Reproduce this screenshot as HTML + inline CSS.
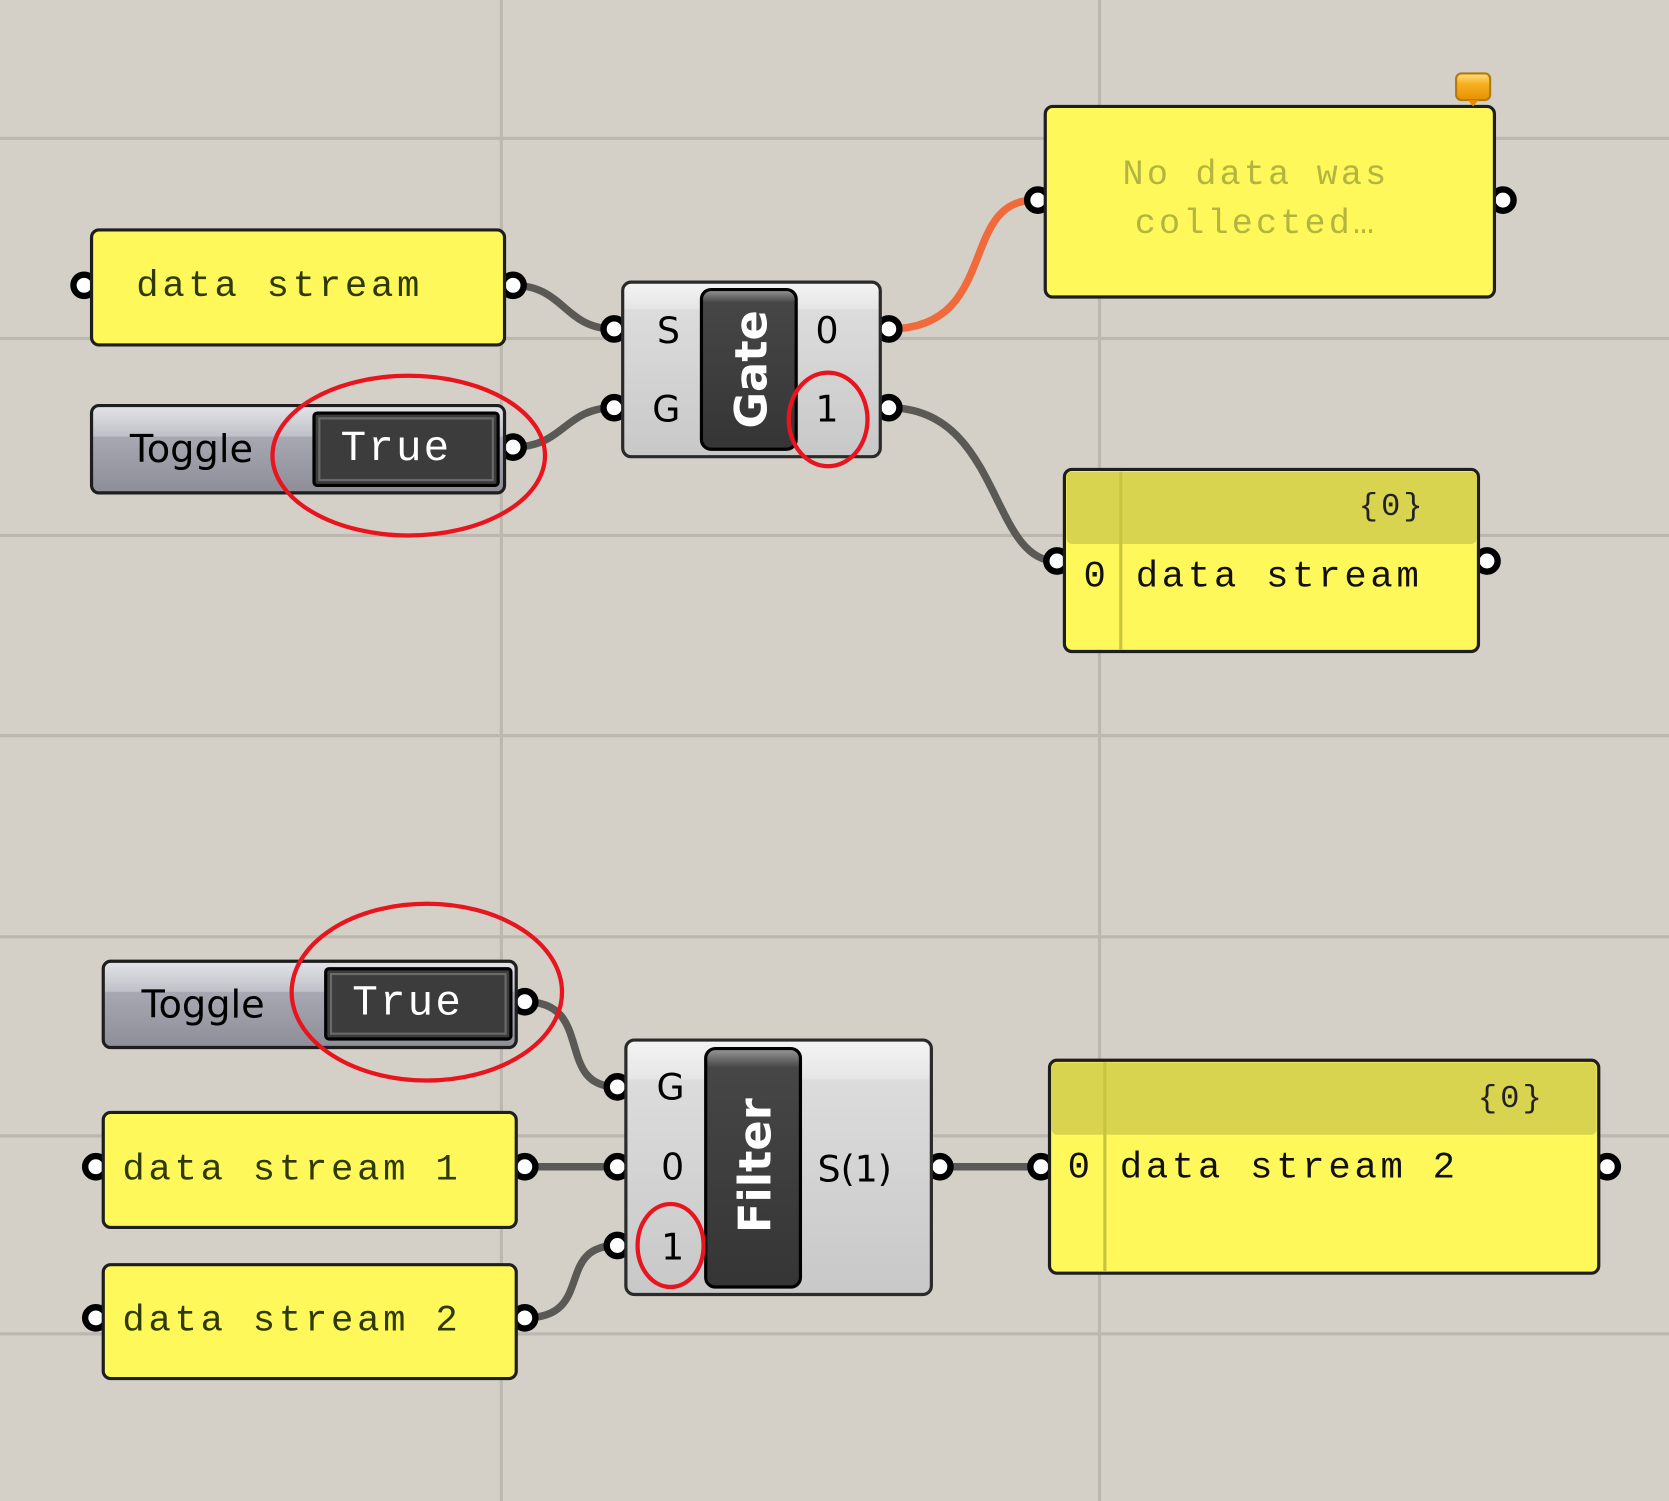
<!DOCTYPE html>
<html><head><meta charset="utf-8"><style>
html,body{margin:0;padding:0;background:#d4d0c8;}
svg{display:block}
.mono{font-family:"Liberation Mono","Courier New",monospace;}
.sans{font-family:"DejaVu Sans","Liberation Sans",sans-serif;}
</style></head><body>
<svg width="1669" height="1501" viewBox="0 0 1568 1410" preserveAspectRatio="none" xmlns="http://www.w3.org/2000/svg">
<defs>
<linearGradient id="comp" x1="0" y1="0" x2="0" y2="1">
<stop offset="0" stop-color="#f4f4f4"/><stop offset="0.15" stop-color="#e6e6e6"/><stop offset="0.16" stop-color="#dcdcdc"/><stop offset="1" stop-color="#c8c8c8"/></linearGradient>
<linearGradient id="dark" x1="0" y1="0" x2="0" y2="1">
<stop offset="0" stop-color="#9a9a9a"/><stop offset="0.08" stop-color="#464646"/><stop offset="1" stop-color="#353535"/></linearGradient>
<linearGradient id="tog" x1="0" y1="0" x2="0" y2="1">
<stop offset="0" stop-color="#e4e4ea"/><stop offset="0.35" stop-color="#c0c0c8"/><stop offset="0.36" stop-color="#a8a8b2"/><stop offset="1" stop-color="#8e8e98"/></linearGradient>
<linearGradient id="bal" x1="0" y1="0" x2="0" y2="1">
<stop offset="0" stop-color="#ffe080"/><stop offset="0.4" stop-color="#f7b020"/><stop offset="1" stop-color="#e69000"/></linearGradient>
</defs>
<g stroke="#bcb8b0" stroke-width="3">
<line x1="0" y1="130" x2="1568" y2="130"/><line x1="0" y1="318" x2="1568" y2="318"/>
<line x1="0" y1="503" x2="1568" y2="503"/><line x1="0" y1="691" x2="1568" y2="691"/>
<line x1="0" y1="880" x2="1568" y2="880"/><line x1="0" y1="1067" x2="1568" y2="1067"/>
<line x1="0" y1="1253" x2="1568" y2="1253"/>
<line x1="471" y1="0" x2="471" y2="1410"/><line x1="1033" y1="0" x2="1033" y2="1410"/>
</g>
<g fill="none" stroke="#5a5955" stroke-width="7">
<path d="M482,268 C530,268 530,309 577,309"/>
<path d="M482,420 C530,420 530,383 577,383"/>
<path d="M835,383 C940,383 930,527 992,527"/>
<path d="M493,941 C560,941 520,1021 580,1021"/>
<path d="M493,1096 L580,1096"/>
<path d="M493,1238 C560,1238 520,1170 580,1170"/>
<path d="M883,1096 L977,1096"/>
</g>
<path d="M835,309 C940,309 900,188 972,188" fill="none" stroke="#f06a3c" stroke-width="7"/>
<g fill="#fff" stroke="#000" stroke-width="6">
<circle cx="79" cy="268" r="10"/><circle cx="482" cy="268" r="10"/><circle cx="482" cy="420" r="10"/>
<circle cx="577" cy="309" r="10"/><circle cx="577" cy="383" r="10"/><circle cx="835" cy="309" r="10"/><circle cx="835" cy="383" r="10"/>
<circle cx="975" cy="188" r="10"/><circle cx="1412" cy="188" r="10"/>
<circle cx="993" cy="527" r="10"/><circle cx="1397" cy="527" r="10"/>
<circle cx="493" cy="941" r="10"/><circle cx="90" cy="1096" r="10"/><circle cx="493" cy="1096" r="10"/>
<circle cx="90" cy="1238" r="10"/><circle cx="493" cy="1238" r="10"/>
<circle cx="580" cy="1021" r="10"/><circle cx="580" cy="1096" r="10"/><circle cx="580" cy="1170" r="10"/>
<circle cx="883" cy="1096" r="10"/><circle cx="978" cy="1096" r="10"/><circle cx="1510" cy="1096" r="10"/>
</g>
<rect x="86" y="216" width="388" height="108" rx="7" fill="#fff85a" stroke="#1e1e1e" stroke-width="3"/>
<text x="128" y="278" class="mono" font-size="35" letter-spacing="3.5" fill="#2e3a00">data stream</text>
<rect x="86" y="381" width="388" height="82" rx="7" fill="url(#tog)" stroke="#1e1e1e" stroke-width="3"/>
<text x="122" y="434" class="sans" font-size="36" fill="#000">Toggle</text>
<rect x="295" y="388" width="173" height="68" rx="3" fill="#3c3c3c" stroke="#000" stroke-width="3"/>
<rect x="300" y="393" width="163" height="58" fill="none" stroke="#6a6a6a" stroke-width="2"/>
<text x="320" y="432" class="mono" font-size="40" letter-spacing="2" fill="#fff">True</text>
<ellipse cx="384" cy="428" rx="128" ry="75" fill="none" stroke="#e8141e" stroke-width="4"/>
<rect x="585" y="265" width="242" height="164" rx="8" fill="url(#comp)" stroke="#2a2a2a" stroke-width="3"/>
<rect x="659" y="272" width="89" height="150" rx="9" fill="url(#dark)" stroke="#000" stroke-width="3"/>
<text transform="translate(720,347) rotate(-90)" text-anchor="middle" class="sans" font-size="42" font-weight="bold" fill="#fff">Gate</text>
<g class="sans" font-size="34" fill="#000" text-anchor="middle">
<text x="628" y="322">S</text><text x="626" y="396">G</text><text x="777" y="322">0</text><text x="777" y="396">1</text>
</g>
<ellipse cx="778" cy="394" rx="37" ry="44" fill="none" stroke="#e8141e" stroke-width="4"/>
<rect x="982" y="100" width="422" height="179" rx="7" fill="#fff85a" stroke="#1e1e1e" stroke-width="3"/>
<g class="mono" font-size="33" letter-spacing="3" fill="#b4b440" text-anchor="middle">
<text x="1180" y="173">No data was</text><text x="1180" y="219">collected…</text></g>
<rect x="1368" y="69" width="32" height="25" rx="5" fill="url(#bal)" stroke="#b07a10" stroke-width="2"/>
<path d="M1379,94 L1384,100 L1389,94 Z" fill="#e69000"/>
<rect x="1000" y="441" width="389" height="171" rx="7" fill="#fff85a" stroke="#1e1e1e" stroke-width="3"/>
<rect x="1002" y="443" width="385" height="68" rx="5" fill="#d9d450"/>
<line x1="1053" y1="443" x2="1053" y2="610" stroke="#c8c440" stroke-width="3"/>
<text x="1308" y="484" class="mono" font-size="30" letter-spacing="3" text-anchor="middle" fill="#222">{0}</text>
<text x="1018" y="551" class="mono" font-size="35" letter-spacing="3.5" fill="#111">0 data stream</text>
<rect x="97" y="903" width="388" height="81" rx="7" fill="url(#tog)" stroke="#1e1e1e" stroke-width="3"/>
<text x="133" y="956" class="sans" font-size="36" fill="#000">Toggle</text>
<rect x="306" y="910" width="174" height="66" rx="3" fill="#3c3c3c" stroke="#000" stroke-width="3"/>
<rect x="311" y="915" width="164" height="56" fill="none" stroke="#6a6a6a" stroke-width="2"/>
<text x="331" y="953" class="mono" font-size="40" letter-spacing="2" fill="#fff">True</text>
<ellipse cx="401" cy="932" rx="127" ry="83" fill="none" stroke="#e8141e" stroke-width="4"/>
<rect x="97" y="1045" width="388" height="108" rx="7" fill="#fff85a" stroke="#1e1e1e" stroke-width="3"/>
<text x="115" y="1108" class="mono" font-size="35" letter-spacing="3.5" fill="#2e3a00">data stream 1</text>
<rect x="97" y="1188" width="388" height="107" rx="7" fill="#fff85a" stroke="#1e1e1e" stroke-width="3"/>
<text x="115" y="1250" class="mono" font-size="35" letter-spacing="3.5" fill="#2e3a00">data stream 2</text>
<rect x="588" y="977" width="287" height="239" rx="8" fill="url(#comp)" stroke="#2a2a2a" stroke-width="3"/>
<rect x="663" y="985" width="89" height="224" rx="9" fill="url(#dark)" stroke="#000" stroke-width="3"/>
<text transform="translate(724,1095) rotate(-90)" text-anchor="middle" class="sans" font-size="42" font-weight="bold" fill="#fff">Filter</text>
<g class="sans" font-size="34" fill="#000" text-anchor="middle">
<text x="630" y="1033">G</text><text x="632" y="1108">0</text><text x="632" y="1183">1</text><text x="803" y="1110">S(1)</text>
</g>
<ellipse cx="630" cy="1170" rx="31" ry="39" fill="none" stroke="#e8141e" stroke-width="4"/>
<rect x="986" y="996" width="516" height="200" rx="7" fill="#fff85a" stroke="#1e1e1e" stroke-width="3"/>
<rect x="988" y="998" width="512" height="68" rx="5" fill="#d9d450"/>
<line x1="1038" y1="998" x2="1038" y2="1194" stroke="#c8c440" stroke-width="3"/>
<text x="1420" y="1040" class="mono" font-size="30" letter-spacing="3" text-anchor="middle" fill="#222">{0}</text>
<text x="1003" y="1106" class="mono" font-size="35" letter-spacing="3.5" fill="#111">0 data stream 2</text>
</svg>
</body></html>
